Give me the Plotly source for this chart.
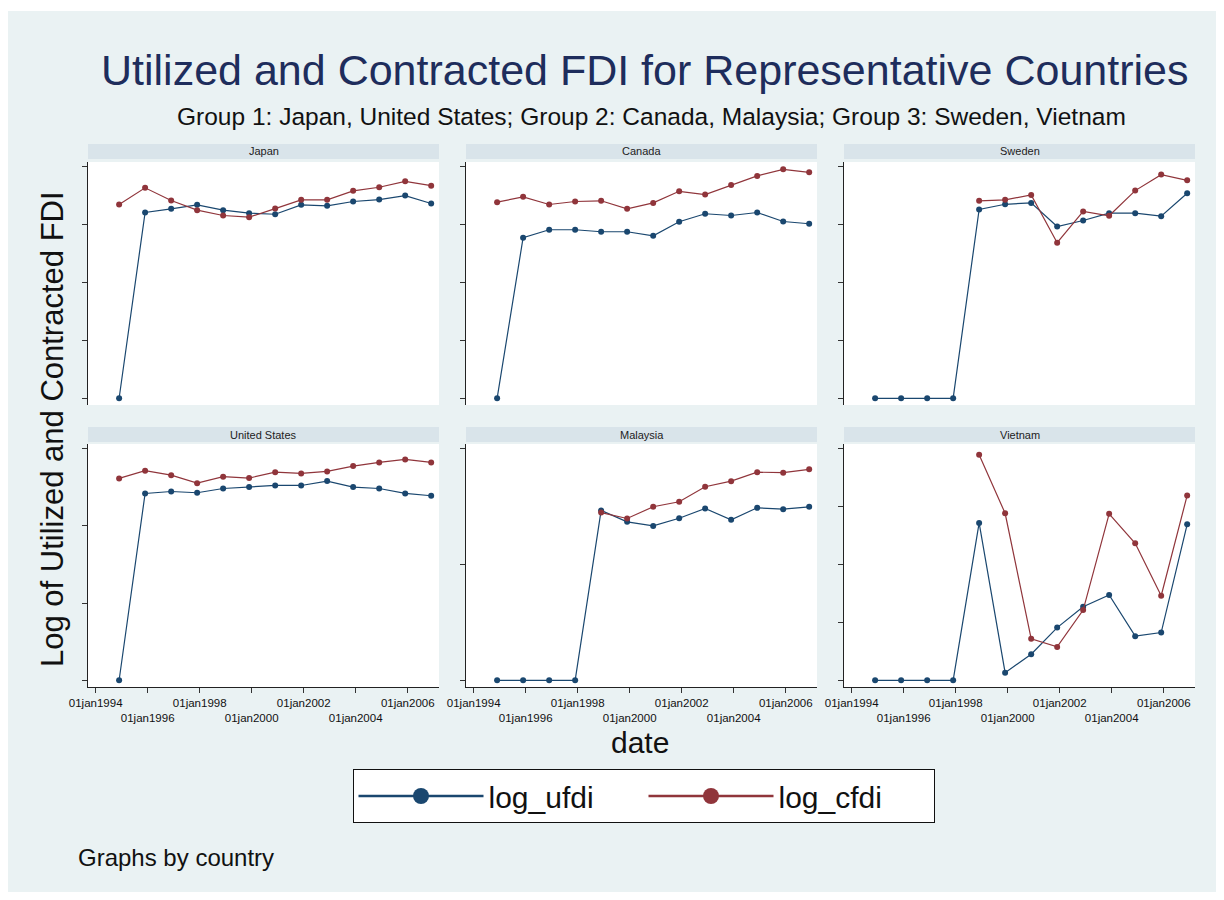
import plotly.graph_objects as go

# ---------------- data ----------------
years = list(range(1994, 2007))
dates = [f"{y}-11-26" for y in years]

countries = ["Japan", "Canada", "Sweden", "United States", "Malaysia", "Vietnam"]

japan_ufdi = [0, 16.04, 16.36, 16.70, 16.24, 15.98, 15.89, 16.70, 16.62, 16.99, 17.16, 17.50, 16.82]
japan_cfdi = [16.73, 18.17, 17.07, 16.24, 15.78, 15.64, 16.38, 17.13, 17.13, 17.91, 18.22, 18.73, 18.36]

canada_ufdi = [0, 13.86, 14.55, 14.55, 14.38, 14.38, 14.03, 15.24, 15.93, 15.78, 16.04, 15.26, 15.07]
canada_cfdi = [16.93, 17.39, 16.73, 16.99, 17.05, 16.36, 16.87, 17.87, 17.59, 18.42, 19.20, 19.77, 19.51]

sweden_ufdi = [0, 0, 0, 0, 16.30, 16.75, 16.87, 14.83, 15.35, 15.98, 15.98, 15.72, 17.70]
sweden_cfdi = [None, None, None, None, 17.05, 17.13, 17.56, 13.43, 16.13, 15.76, 17.93, 19.31, 18.82]

us_ufdi = [0, 16.13, 16.30, 16.19, 16.56, 16.68, 16.82, 16.82, 17.20, 16.68, 16.56, 16.13, 15.93]
us_cfdi = [17.43, 18.10, 17.71, 17.02, 17.58, 17.46, 17.97, 17.86, 18.03, 18.49, 18.81, 19.07, 18.81]

malaysia_ufdi = [0, 0, 0, 0, 14.66, 13.68, 13.33, 13.99, 14.83, 13.85, 14.89, 14.77, 14.98]
malaysia_cfdi = [None, None, None, None, 14.48, 13.97, 14.98, 15.41, 16.71, 17.19, 17.97, 17.92, 18.21]

vietnam_ufdi = [0, 0, 0, 0, 13.59, 0.66, 2.25, 4.55, 6.35, 7.36, 3.81, 4.12, 13.47]
vietnam_cfdi = [None, None, None, None, 19.48, 14.42, 3.58, 2.88, 6.06, 14.37, 11.83, 7.30, 15.96]

ufdi = [japan_ufdi, canada_ufdi, sweden_ufdi, us_ufdi, malaysia_ufdi, vietnam_ufdi]
cfdi = [japan_cfdi, canada_cfdi, sweden_cfdi, us_cfdi, malaysia_cfdi, vietnam_cfdi]

x_tick_vals = [f"{y}-01-01" for y in range(1994, 2007, 2)]
x_tick_text = ["01jan1994", "<br>01jan1996", "01jan1998", "<br>01jan2000",
               "01jan2002", "<br>01jan2004", "01jan2006"]

y_ticks = [[0, 5, 10, 15, 20], [0, 5, 10, 15, 20], [0, 5, 10, 15, 20],
           [0, 20 / 3, 40 / 3, 20], [0, 10, 20], [0, 5, 10, 15, 20]]
y_grids = [[0, 10, 20], [0, 5, 10, 15, 20], [0, 20 / 3, 40 / 3, 20],
           [0, 10, 20], [0, 5, 10, 15, 20], [0, 5, 10, 15, 20]]

# ---------------- style ----------------
BG = "#EAF2F3"
STRIP = "#D9E4EA"
NAVY = "#1A476F"
MAROON = "#90353B"
GRID = "#E3ECEE"
FONT = "Liberation Sans, Arial, sans-serif"
TITLE_COL = "#1E2D5C"

W, H = 1208, 884
OFF = 8  # default body margin of the page


def px(x):
    return (x - OFF) / W


def py(y):
    return 1 - (y - OFF) / H


cols = [(88, 439), (466, 817), (844, 1195)]
rows = [(162, 405), (444, 687)]
strips = [(144, 159), (427, 442)]

x_range = ["1993-09-15", "2007-03-16"]
y_range = [-0.58, 20.4]

fig = go.Figure()
shapes = []
annotations = []

# white strip at the very top (page shows 11px white above the chart)
shapes.append(dict(type="rect", xref="paper", yref="paper", x0=-0.01, x1=1.01, y0=py(11), y1=1.01,
                   fillcolor="white", line=dict(width=0), layer="below"))

for i, name in enumerate(countries):
    r, c = divmod(i, 3)
    ax = "" if i == 0 else str(i + 1)
    xa, ya = "x" + ax, "y" + ax
    fig.add_trace(go.Scatter(x=dates, y=ufdi[i], mode="lines+markers", xaxis=xa, yaxis=ya,
                             line=dict(color=NAVY, width=1.2), marker=dict(color=NAVY, size=6),
                             showlegend=False, name="log_ufdi"))
    fig.add_trace(go.Scatter(x=dates, y=cfdi[i], mode="lines+markers", xaxis=xa, yaxis=ya,
                             line=dict(color=MAROON, width=1.2), marker=dict(color=MAROON, size=6),
                             showlegend=False, name="log_cfdi"))
    bottom = r == 1
    fig.layout["xaxis" + ax] = dict(
        domain=[px(cols[c][0]), px(cols[c][1])], anchor=ya, type="date", range=x_range,
        showgrid=False, zeroline=False, showline=bottom, linecolor="#222", linewidth=1,
        ticks="outside" if bottom else "", ticklen=5, tickcolor="#333", tickwidth=1,
        tickmode="array", tickvals=x_tick_vals, ticktext=x_tick_text, tickangle=0,
        showticklabels=bottom, tickfont=dict(family=FONT, size=11.5, color="#111"),
        fixedrange=True, automargin=False)
    fig.layout["yaxis" + ax] = dict(
        domain=[py(rows[r][1]), py(rows[r][0])], anchor=xa, range=y_range,
        showgrid=False, zeroline=False, showline=True, linecolor="#222", linewidth=1,
        ticks="outside", ticklen=5, tickcolor="#333", tickwidth=1,
        tickmode="array", tickvals=y_ticks[i], showticklabels=False, fixedrange=True,
        automargin=False)
    for g in y_grids[i]:
        shapes.append(dict(type="line", xref=xa + " domain", yref=ya, x0=0, x1=1, y0=g, y1=g,
                           line=dict(color=GRID, width=1.2), layer="below"))
    # plot area background
    shapes.append(dict(type="rect", xref="paper", yref="paper",
                       x0=px(cols[c][0]), x1=px(cols[c][1]), y0=py(rows[r][1]), y1=py(rows[r][0]),
                       fillcolor="white", line=dict(width=0), layer="below"))
    # strip
    shapes.append(dict(type="rect", xref="paper", yref="paper",
                       x0=px(cols[c][0]), x1=px(cols[c][1]), y0=py(strips[r][1]), y1=py(strips[r][0]),
                       fillcolor=STRIP, line=dict(width=0), layer="below"))
    annotations.append(dict(text=name, xref="paper", yref="paper",
                            x=px((cols[c][0] + cols[c][1]) / 2), y=py((strips[r][0] + strips[r][1]) / 2),
                            xanchor="center", yanchor="middle", showarrow=False,
                            font=dict(family=FONT, size=11, color="#222")))

# legend-only traces
fig.add_trace(go.Scatter(x=[None], y=[None], mode="lines+markers", name="log_ufdi",
                         line=dict(color=NAVY, width=2.5), marker=dict(color=NAVY, size=16)))
fig.add_trace(go.Scatter(x=[None], y=[None], mode="lines+markers", name="log_cfdi",
                         line=dict(color=MAROON, width=2.5), marker=dict(color=MAROON, size=16)))

annotations += [
    dict(text="Utilized and Contracted FDI for Representative Countries", x=px(644.5), y=py(70),
         xanchor="center", yanchor="middle", font=dict(family=FONT, size=43, color=TITLE_COL)),
    dict(text="Group 1: Japan, United States; Group 2: Canada, Malaysia; Group 3: Sweden, Vietnam",
         x=px(651.5), y=py(116), xanchor="center", yanchor="middle",
         font=dict(family=FONT, size=24.5, color="#111")),
    dict(text="Log of Utilized and Contracted FDI", x=px(52), y=py(429), textangle=-90,
         xanchor="center", yanchor="middle", font=dict(family=FONT, size=31, color="#111")),
    dict(text="date", x=px(640), y=py(742), xanchor="center", yanchor="middle",
         font=dict(family=FONT, size=30, color="#111")),
    dict(text="Graphs by country", x=px(76), y=py(857), xanchor="left", yanchor="middle",
         font=dict(family=FONT, size=24, color="#111")),
]
for a in annotations:
    a.setdefault("xref", "paper")
    a.setdefault("yref", "paper")
    a.setdefault("showarrow", False)

fig.update_layout(
    width=W, height=H, autosize=False,
    margin=dict(l=0, r=0, t=0, b=0, pad=0, autoexpand=False),
    paper_bgcolor=BG, plot_bgcolor="rgba(0,0,0,0)",
    shapes=shapes, annotations=annotations,
    showlegend=True,
    legend=dict(orientation="h", x=px(643.5), xanchor="center", y=py(769), yanchor="top",
                bgcolor="white", bordercolor="#111", borderwidth=1,
                font=dict(family=FONT, size=30, color="#111"),
                entrywidth=150, itemwidth=125),
    font=dict(family=FONT),
)

fig.write_html("out.html", config={"displayModeBar": False})
